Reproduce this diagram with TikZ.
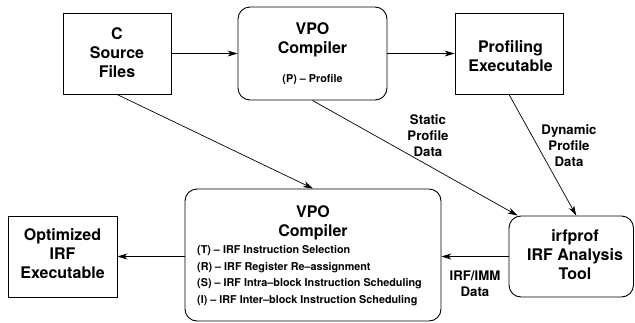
\documentclass[tikz,border=0pt]{standalone}
\usepackage{fontspec}
\setmainfont{TeX Gyre Heros}
\usetikzlibrary{arrows.meta}
\tikzset{
  box/.style={draw, line width=0.9pt, inner sep=0pt},
  rbox/.style={box, rounded corners=12pt},
  title/.style={font=\fontsize{16}{19}\selectfont\bfseries, align=center, inner sep=0pt},
  small/.style={font=\fontsize{10.8}{16.7}\selectfont\bfseries, align=left, inner sep=0pt},
  lab/.style={font=\fontsize{13.2}{16}\selectfont\bfseries, align=center, inner sep=0pt},
  arr/.style={-{Stealth[length=10pt,width=6pt,inset=3pt]}, line width=0.7pt}
}
\begin{document}
\begin{tikzpicture}[x=1pt,y=-1pt]
\useasboundingbox (0,0) rectangle (635,322);
% boxes
\node[box, minimum width=108pt, minimum height=81pt] (src) at (117,53.5) {};
\node[rbox, minimum width=149pt, minimum height=93pt] (vpo1) at (312.5,53.5) {};
\node[box, minimum width=108pt, minimum height=81pt] (prof) at (509,53.5) {};
\node[rbox, minimum width=256pt, minimum height=132pt] (vpo2) at (313,255) {};
\node[box, minimum width=109pt, minimum height=81pt] (opt) at (62.5,256.5) {};
\node[rbox, minimum width=124.5pt, minimum height=81pt] (irf) at (571.25,256.5) {};
% texts
\node[title] (srct) at (117,53) {C\\Source\\Files};
\node[title] (vpo1t) at (312.5,40) {VPO\\Compiler};
\node[small] (vpo1s) at (312.5,80) {(P) – Profile};
\node[title] (proft) at (510.5,56) {Profiling\\Executable};
\node[title] (vpo2t) at (313,222.5) {VPO\\Compiler};
\node[small, anchor=west] (vpo2s) at (197,275.7) {(T) – IRF Instruction Selection\\(R) – IRF Register Re–assignment\\(S) – IRF Intra–block Instruction Scheduling\\(I) – IRF Inter–block Instruction Scheduling};
\node[title] (optt) at (62.5,254) {Optimized\\IRF\\Executable};
\node[title] (irft) at (575,255) {irfprof\\IRF Analysis\\Tool};
% labels
\node[lab] (lstatic) at (428,136) {Static\\Profile\\Data};
\node[lab] (ldyn) at (569,146) {Dynamic\\Profile\\Data};
\node[lab] (limm) at (475,284) {IRF/IMM\\Data};
% connectors
\draw[arr] (src.east) -- (vpo1.west);
\draw[arr] (vpo1.east) -- (prof.west);
\draw[arr] (src.south) -- (vpo2.north);
\draw[arr] (vpo1.south) -- ([xshift=9pt]irf.north west);
\draw[arr] (prof.south) -- ([xshift=5pt]irf.north);
\draw[arr] (irf.west) -- (irf.west -| vpo2.east);
\draw[arr] (opt.east -| vpo2.west) -- (opt.east);
\end{tikzpicture}
\end{document}
